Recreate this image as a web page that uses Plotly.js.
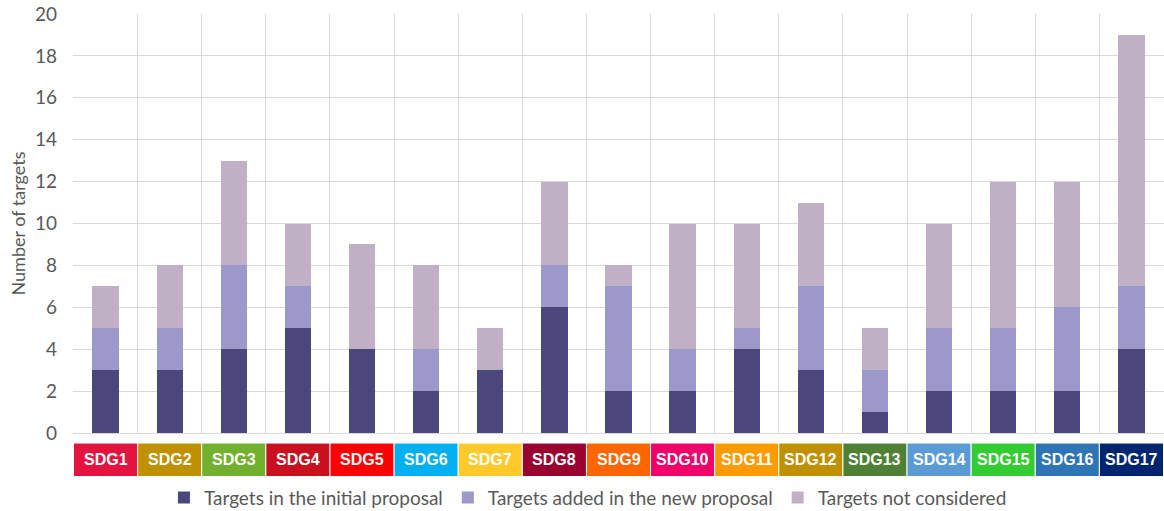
<!DOCTYPE html>
<html>
<head>
<meta charset="utf-8">
<script src="https://cdn.plot.ly/plotly-3.0.1.min.js"></script>
<style>
  html, body { margin: 0; padding: 0; background: #ffffff; }
  #chart { width: 1164px; height: 511px; }
</style>
</head>
<body>
<div id="chart"></div>
<script>
// Sustainable Development Goals and their targets
const goals = ["SDG1", "SDG2", "SDG3", "SDG4", "SDG5", "SDG6", "SDG7", "SDG8", "SDG9",
               "SDG10", "SDG11", "SDG12", "SDG13", "SDG14", "SDG15", "SDG16", "SDG17"];
const goalColors = ["#E5133F", "#C19000", "#72B12E", "#C8101E", "#FF0000", "#00B0F0", "#FFC92B",
                    "#99002F", "#FF6600", "#F2006A", "#FF9A00", "#C19000", "#4E8134", "#5B9BD5",
                    "#33CC33", "#2E75B6", "#002570"];

const initialTargets    = [3, 3, 4, 5, 4, 2, 3, 6, 2, 2, 4, 3, 1, 2, 2, 2, 4];
const addedTargets      = [2, 2, 4, 2, 0, 2, 0, 2, 5, 2, 1, 4, 2, 3, 3, 4, 3];
const notConsidered     = [2, 3, 5, 3, 5, 4, 2, 4, 1, 6, 5, 4, 2, 5, 7, 6, 12];

const seriesNames = ["Targets in the initial proposal", "Targets added in the new proposal", "Targets not considered"];
const seriesColors = ["#4B477D", "#9C98CA", "#BFB0C6"];
const yTicks = [0, 2, 4, 6, 8, 10, 12, 14, 16, 18, 20];

const textGray = "#595959";
const gridGray = "#D9D9D9";

const traces = [initialTargets, addedTargets, notConsidered].map((vals, k) => ({
  type: "bar",
  x: goals,
  y: vals,
  name: seriesNames[k],
  marker: { color: seriesColors[k], line: { width: 0 } },
  hoverinfo: "x+y+name"
}));

// Coloured goal boxes under the axis, one per category
const boxTop = -0.024, boxBottom = -0.104;
const shapes = goals.map((g, i) => ({
  type: "rect",
  xref: "x", yref: "paper",
  x0: i - 0.5, x1: i + 0.5,
  y0: boxBottom, y1: boxTop,
  fillcolor: goalColors[i],
  line: { color: "#FFFFFF", width: 1 },
  layer: "above"
}));
const annotations = goals.map((g, i) => ({
  xref: "x", yref: "paper",
  x: i, y: (boxTop + boxBottom) / 2,
  text: "<b>" + g + "</b>",
  showarrow: false,
  xanchor: "center", yanchor: "middle",
  font: { family: "Liberation Sans, Arial, sans-serif", size: 16, color: "#FFFFFF" }
}));

const layout = {
  width: 1164,
  height: 511,
  margin: { l: 73, r: 0, t: 14, b: 78, autoexpand: false },
  paper_bgcolor: "#FFFFFF",
  plot_bgcolor: "#FFFFFF",
  barmode: "stack",
  bargap: 0.59,
  font: { family: "Lato, 'Open Sans', sans-serif", color: textGray },
  showlegend: true,
  legend: {
    orientation: "h",
    x: 0.472, xanchor: "center",
    y: -0.154, yanchor: "middle",
    font: { size: 19, color: textGray },
    traceorder: "normal"
  },
  xaxis: {
    type: "category",
    categoryorder: "array",
    categoryarray: goals,
    tickson: "boundaries",
    showgrid: true,
    gridcolor: gridGray,
    gridwidth: 1,
    showticklabels: false,
    ticks: "",
    showline: true,
    linecolor: gridGray,
    linewidth: 1,
    fixedrange: true
  },
  yaxis: {
    range: [0, 20],
    tickvals: yTicks,
    ticktext: yTicks.map(String),
    showgrid: true,
    gridcolor: gridGray,
    gridwidth: 1,
    zeroline: false,
    ticks: "",
    ticklabelstandoff: 15,
    tickfont: { size: 19, color: textGray },
    title: { text: "Number of targets", font: { size: 18, color: textGray }, standoff: 4 },
    fixedrange: true
  },
  shapes: shapes,
  annotations: annotations
};

Plotly.newPlot("chart", traces, layout, { displayModeBar: false, staticPlot: true });
</script>
</body>
</html>
